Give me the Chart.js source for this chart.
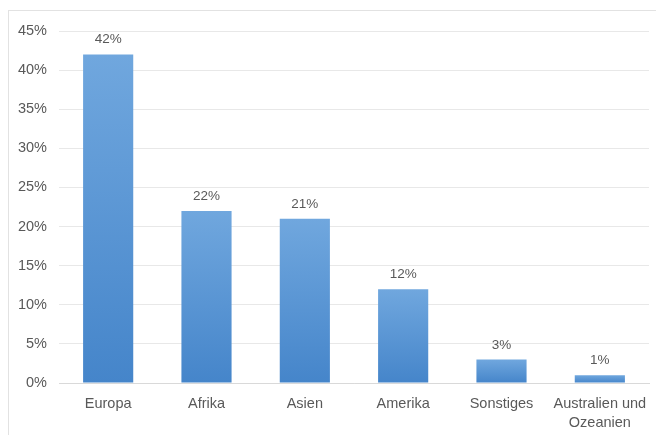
<!DOCTYPE html>
<html>
<head>
<meta charset="utf-8">
<script src="https://cdn.jsdelivr.net/npm/chart.js@4.4.1/dist/chart.umd.min.js"></script>
<style>
  html, body { margin: 0; padding: 0; background: #fff; overflow: hidden; }
  #wrap { position: relative; width: 656px; height: 435px; overflow: hidden; }
  #frame { position: absolute; left: 8px; top: 10px; width: 720px; height: 500px; border: 1px solid #e2e2e2; box-sizing: border-box; }
  canvas { position: absolute; left: 0; top: 0; }
</style>
</head>
<body>
<div id="wrap">
  <div id="frame"></div>
  <canvas id="c" width="656" height="435"></canvas>
</div>
<script>
const categories = ["Europa", "Afrika", "Asien", "Amerika", "Sonstiges", ["Australien und", "Ozeanien"]];
const values = [42, 22, 21, 12, 3, 1];
const yTicks = [0, 5, 10, 15, 20, 25, 30, 35, 40, 45];

const textColor = "#595959";
const fontFamily = "'Liberation Sans', Arial, sans-serif";

const labelPlugin = {
  id: "barLabels",
  afterDatasetsDraw(chart) {
    const ctx = chart.ctx;
    const meta = chart.getDatasetMeta(0);
    ctx.save();
    ctx.fillStyle = textColor;
    ctx.font = "13.5px " + fontFamily;
    ctx.textAlign = "center";
    ctx.textBaseline = "bottom";
    meta.data.forEach((bar, i) => {
      ctx.fillText(values[i] + "%", bar.x, bar.y - 8);
    });
    ctx.restore();
  }
};

const chart = new Chart(document.getElementById("c"), {
  type: "bar",
  data: {
    labels: categories,
    datasets: [{
      data: values,
      backgroundColor: (c) => {
        const chartObj = c.chart;
        const ys = chartObj.scales && chartObj.scales.y;
        if (!ys || c.raw === undefined) return "#5b9bd5";
        const top = ys.getPixelForValue(c.raw);
        const bottom = ys.getPixelForValue(0);
        if (!isFinite(top) || !isFinite(bottom) || top === bottom) return "#5b9bd5";
        const g = chartObj.ctx.createLinearGradient(0, top, 0, bottom);
        g.addColorStop(0, "#70a7de");
        g.addColorStop(1, "#4585ca");
        return g;
      },
      borderWidth: 0,
      barPercentage: 0.51,
      categoryPercentage: 1.0
    }]
  },
  options: {
    responsive: false,
    animation: false,
    devicePixelRatio: 1,
    layout: { padding: { left: 0, right: 7, top: 31, bottom: 0 } },
    plugins: {
      legend: { display: false },
      tooltip: { enabled: false }
    },
    scales: {
      x: {
        afterFit: (s) => { s.height = 52; s.paddingRight = 0; s.paddingLeft = 0; },
        grid: { display: false, drawTicks: false },
        border: { display: true, color: "#d9d9d9", width: 1 },
        ticks: {
          color: textColor,
          font: { family: fontFamily, size: 14.5, lineHeight: 1.31 },
          padding: 12,
          maxRotation: 0,
          autoSkip: false
        }
      },
      y: {
        min: 0,
        max: 45,
        afterFit: (s) => { s.width = 59; },
        afterBuildTicks: (s) => { s.ticks = yTicks.map(v => ({ value: v })); },
        grid: { color: "#e8e8e8", drawTicks: false },
        border: { display: false },
        ticks: {
          color: textColor,
          font: { family: fontFamily, size: 14.5 },
          padding: 12,
          callback: (v) => v + "%"
        }
      }
    }
  },
  plugins: [labelPlugin]
});
</script>
</body>
</html>
